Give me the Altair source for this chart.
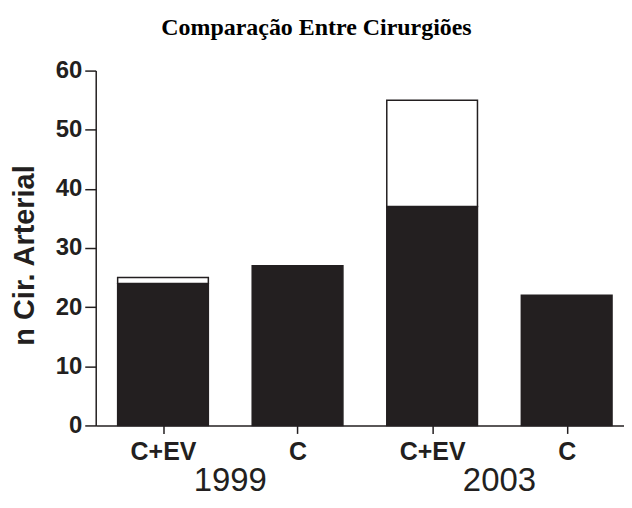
import json
import altair as alt
import pandas as pd

# ---- data ----
categories = ["C+EV", "C", "C+EV", "C"]
years = ["1999", "1999", "2003", "2003"]
black_values = [24, 27, 37, 22]   # filled (black) part of each bar
white_values = [1, 0, 18, 0]      # open (white) part stacked on top
y_ticks = [0, 10, 20, 30, 40, 50, 60]
chart_title = "Comparação Entre Cirurgiões"
y_title = "n Cir. Arterial"

INK = "#231f20"
HALF = 0.337  # half bar width in category units

rows = []
for i, (cat, yr, b, w) in enumerate(zip(categories, years, black_values, white_values)):
    rows.append(dict(pos=i, x0=i - HALF, x1=i + HALF, y0=0, y1=b, seg="black"))
    if w > 0:
        rows.append(dict(pos=i, x0=i - HALF, x1=i + HALF, y0=b, y1=b + w, seg="white"))
bars = pd.DataFrame(rows)

year_rows = []
for yr in dict.fromkeys(years):
    idx = [i for i, y in enumerate(years) if y == yr]
    year_rows.append(dict(year=yr, x0=sum(idx) / len(idx)))
year_df = pd.DataFrame(year_rows)

title_df = pd.DataFrame({"t": [chart_title]})

PAD_TOP = 62
PLOT_W = 530
PLOT_H = 356
PAD_BOTTOM = 492 - PAD_TOP - PLOT_H
x_scale = alt.Scale(domain=[-0.5, -0.5 + PLOT_W / 135], nice=False, zero=False)
y_scale = alt.Scale(domain=[0, 60], nice=False, zero=False)

label_expr = json.dumps(categories) + "[datum.value]"

x_axis = alt.Axis(values=list(range(len(categories))), labelExpr=label_expr,
                  title=None, grid=False, tickSize=8, labelPadding=6,
                  labelFontSize=25, labelFontWeight="bold",
                  labelFont="Liberation Sans")

bar_layer = alt.Chart(bars).mark_rect(stroke=INK, strokeWidth=1.5).encode(
    x=alt.X("x0:Q", scale=x_scale, axis=x_axis),
    x2="x1:Q",
    y=alt.Y("y0:Q", scale=y_scale,
            axis=alt.Axis(values=y_ticks, title=y_title, grid=False, tickSize=11,
                          labelPadding=3, labelFontSize=24, labelFontWeight="bold",
                          labelFont="Liberation Sans",
                          titleFont="Liberation Sans", titleFontSize=29,
                          titleFontWeight="bold", titleAngle=270,
                          titleX=-62, titleY=185, titleBaseline="alphabetic",
                          titleAlign="center")),
    y2="y1:Q",
    color=alt.Color("seg:N", scale=alt.Scale(domain=["black", "white"], range=[INK, "white"]),
                    legend=None),
)

year_layer = alt.Chart(year_df).mark_text(
    font="Liberation Sans", fontSize=33, align="center", baseline="alphabetic", color=INK
).encode(
    x=alt.X("x0:Q", scale=x_scale, axis=x_axis),
    y=alt.value(492 - 8 - PAD_TOP),
    text="year:N",
)

title_layer = alt.Chart(title_df).mark_text(
    font="Liberation Serif", fontSize=24, fontWeight="bold", align="center",
    baseline="alphabetic", color="black"
).encode(
    x=alt.value(221.5),
    y=alt.value(34 - 8 - PAD_TOP),
    text="t:N",
)

chart = alt.layer(bar_layer, year_layer, title_layer).properties(
    width=PLOT_W,
    height=PLOT_H,
    autosize=alt.AutoSizeParams(type="none"),
    padding={"left": 88, "top": PAD_TOP, "right": 0, "bottom": PAD_BOTTOM},
).configure_view(stroke=None).configure_axis(
    domainColor=INK, domainWidth=1.5, tickColor=INK, tickWidth=1.5,
    labelColor=INK, titleColor=INK,
)

chart.save("out.html", embed_options={"renderer": "svg", "actions": False})
